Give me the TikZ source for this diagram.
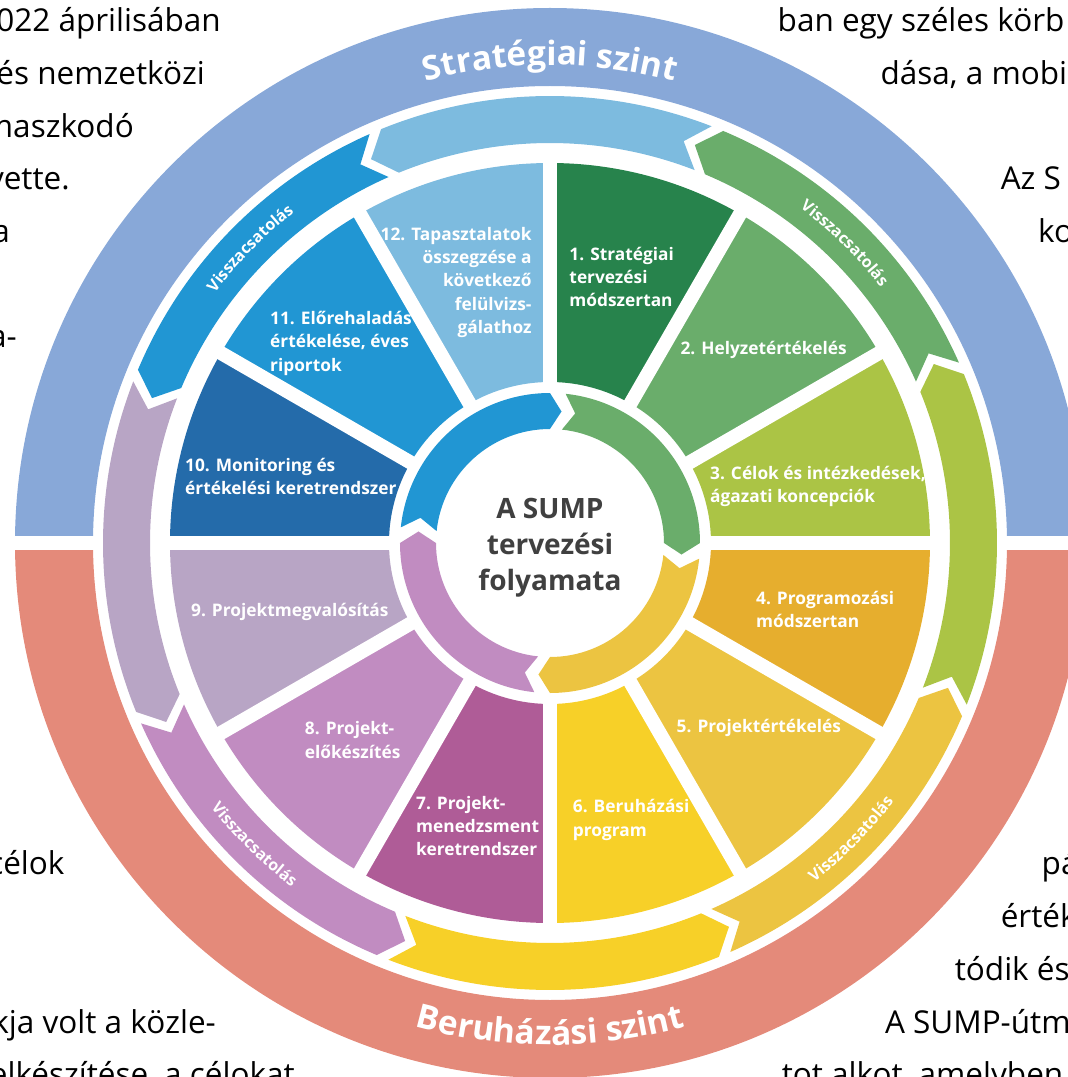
\documentclass[tikz,border=0pt]{standalone}
\usepackage{fontspec}
\setmainfont{Open Sans}
\usepackage{xcolor}
\usepackage{tikz}
\usetikzlibrary{decorations.text}
\definecolor{levelblue}{RGB}{136, 168, 216}
\definecolor{levelred}{RGB}{228, 138, 122}
\definecolor{stepone}{RGB}{39, 131, 76}
\definecolor{steptwo}{RGB}{106, 173, 107}
\definecolor{stepthree}{RGB}{171, 196, 69}
\definecolor{stepfour}{RGB}{230, 174, 46}
\definecolor{stepfive}{RGB}{236, 196, 65}
\definecolor{stepsix}{RGB}{247, 208, 40}
\definecolor{stepseven}{RGB}{175, 92, 151}
\definecolor{stepeight}{RGB}{193, 140, 193}
\definecolor{stepnine}{RGB}{184, 165, 197}
\definecolor{stepten}{RGB}{36, 107, 170}
\definecolor{stepeleven}{RGB}{33, 150, 211}
\definecolor{steptwelve}{RGB}{125, 187, 223}
\definecolor{centregrey}{RGB}{64, 64, 64}
\newcommand{\feedbackfont}{\color{white}\bfseries\fontsize{16}{16}\selectfont}
\newcommand{\levelfont}{\color{white}\bfseries\fontsize{33.5}{33.5}\selectfont}

\begin{document}
\begin{tikzpicture}[x=1pt, y=1pt,
    steplabel/.style={text=white, font=\bfseries\fontsize{17.3}{23.3}\selectfont, align=left, inner sep=0pt},
    bodytext/.style={text=black, font=\fontsize{31.5}{36}\selectfont, inner sep=0pt},
    gap/.style={white, line width=14}]
    \clip (-550,-534) rectangle (518,543);

    % background text of the page
    \node[bodytext, anchor=base east] (left0) at (-329, 511.3) {022 áprilisában};
    \node[bodytext, anchor=base east] (left1) at (-345, 458.6) {és nemzetközi};
    \node[bodytext, anchor=base east] (left2) at (-416, 405.9) {maszkodó};
    \node[bodytext, anchor=base east] (left3) at (-480, 353.2) {vette.};
    \node[bodytext, anchor=base east] (left4) at (-539.8, 300.5) {a};
    \node[bodytext, anchor=base east] (left6) at (-533, 195.1) {a-};
    \node[bodytext, anchor=base east] (left16) at (-485.3, -331.9) {célok};
    \node[bodytext, anchor=base east] (left19) at (-334, -490) {kja volt a közle-};
    \node[bodytext, anchor=base east] (left20) at (-255, -542.7) {elkészítése, a célokat};
    \node[bodytext, anchor=base west] (right0) at (227.5, 511.3) {ban egy széles körb};
    \node[bodytext, anchor=base west] (right1) at (330.4, 458.6) {dása, a mobi};
    \node[bodytext, anchor=base west] (right3) at (450.6, 353.2) {Az S};
    \node[bodytext, anchor=base west] (right4) at (488, 300.5) {ko};
    \node[bodytext, anchor=base west] (right16) at (491.5, -331.9) {pá};
    \node[bodytext, anchor=base west] (right17) at (450.6, -384.6) {érték};
    \node[bodytext, anchor=base west] (right18) at (404.6, -437.3) {tódik és};
    \node[bodytext, anchor=base west] (right19) at (334.8, -490) {A SUMP-útm};
    \node[bodytext, anchor=base west] (right20) at (231.6, -542.7) {tot alkot, amelyben};

    % level ring
    \fill[levelblue] (0:535) arc[start angle=0, end angle=180, radius=535] -- (180:457) arc[start angle=180, end angle=0, radius=457] -- cycle;
    \fill[levelred] (180:535) arc[start angle=180, end angle=360, radius=535] -- (0:457) arc[start angle=360, end angle=180, radius=457] -- cycle;
    \draw[gap] (-545,0) -- (-450,0) (450,0) -- (545,0);
    \path[decorate, decoration={text along path, text align=center, text={|\levelfont|Stratégiai szint}}]
        (130:478) arc[start angle=130, end angle=50, radius=478];
    \path[decorate, decoration={text along path, text align=center, text={|\levelfont|Beruházási szint}}]
        (230:502) arc[start angle=230, end angle=310, radius=502];

    % feedback ring
    \foreach \col [count=\i] in {steptwo, steptwelve, stepeleven, stepnine, stepeight, stepsix, stepfive, stepthree} {
        \pgfmathsetmacro{\fa}{23+45*(\i-1)+0.8}
        \pgfmathsetmacro{\fb}{23+45*\i-0.8}
        \fill[\col] (\fa:400) arc[start angle=\fa, end angle=\fb, radius=400] -- ({\fb+2.8}:423.5) -- (\fb:447)
            arc[start angle=\fb, end angle=\fa, radius=447] -- ({\fa+2.8}:423.5) -- cycle;
    }
    \foreach \m in {45.5, 135.5}
        \path[decorate, decoration={text along path, text align=center, text={|\feedbackfont|Visszacsatolás}}]
            ({\m+25}:418) arc[start angle=\m+25, end angle=\m-25, radius=418];
    \foreach \m in {225.5, 315.5}
        \path[decorate, decoration={text along path, text align=center, text={|\feedbackfont|Visszacsatolás}}]
            ({\m-25}:430) arc[start angle=\m-25, end angle=\m+25, radius=430];

    % twelve steps
    \foreach \col [count=\k] in {stepone, steptwo, stepthree, stepfour, stepfive, stepsix, stepseven, stepeight, stepnine, stepten, stepeleven, steptwelve} {
        \pgfmathsetmacro{\aa}{120-30*\k}
        \pgfmathsetmacro{\ab}{90-30*\k}
        \fill[\col] (\aa:161) arc[start angle=\aa, end angle=\ab, radius=161] -- (\ab:380)
            arc[start angle=\ab, end angle=\aa, radius=380] -- cycle;
    }
    \foreach \a in {0, 30, ..., 330}
        \draw[gap] (\a:155) -- (\a:390);

    % inner cycle
    \foreach \col/\ta/\tb in {stepeleven/177/87, steptwo/87/-3, stepfive/-3/-93, stepeight/-93/-183} {
        \pgfmathsetmacro{\fa}{\ta-3}
        \pgfmathsetmacro{\fb}{\tb+3}
        \fill[\col] (\fa:150) arc[start angle=\fa, end angle=\fb, radius=150] -- ({\fb-5}:132) -- (\fb:114)
            arc[start angle=\fb, end angle=\fa, radius=114] -- ({\fa-5}:132) -- cycle;
    }

    \node[steplabel, anchor=west] (step1) at (19.3, 266) {1. Stratégiai\\tervezési\\módszertan};
    \node[steplabel] (step2) at (213.6, 193) {2. Helyzetértékelés};
    \node[steplabel, anchor=west] (step3) at (160, 56.5) {3. Célok és intézkedések,\\ágazati koncepciók};
    \node[steplabel, anchor=west] (step4) at (206, -66.3) {4. Programozási\\módszertan};
    \node[steplabel] (step5) at (208.8, -185.3) {5. Projektértékelés};
    \node[steplabel, anchor=west] (step6) at (22.7, -276.8) {6. Beruházási\\program};
    \node[steplabel, anchor=west] (step7) at (-134, -283.2) {7. Projekt-\\menedzsment\\keretrendszer};
    \node[steplabel, anchor=west] (step8) at (-245.2, -197) {8. Projekt-\\előkészítés};
    \node[steplabel, anchor=west] (step9) at (-359, -68.7) {9. Projektmegvalósítás};
    \node[steplabel, anchor=west] (step10) at (-365, 66.3) {10. Monitoring és\\értékelési keretrendszer};
    \node[steplabel, anchor=west] (step11) at (-280, 199.7) {11. Előrehaladás\\értékelése, éves\\riportok};
    \node[steplabel, anchor=east, align=right] (step12) at (-18.3, 260.7) {12. Tapasztalatok\\összegzése a\\következő\\felülvizs-\\gálathoz};

    \node[text=centregrey, font=\bfseries\fontsize{28}{36}\selectfont, align=center] (title) at (0, -4.5) {A SUMP\\tervezési\\folyamata};
\end{tikzpicture}
\end{document}
